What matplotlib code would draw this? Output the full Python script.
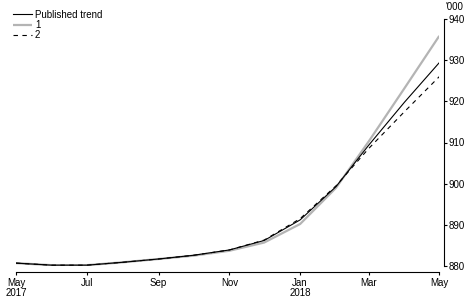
import matplotlib
matplotlib.use("Agg")
import matplotlib.pyplot as plt
import matplotlib.dates as mdates
import numpy as np
import datetime as dt

months = [dt.date(2017, 5, 1), dt.date(2017, 6, 1), dt.date(2017, 7, 1), dt.date(2017, 8, 1),
          dt.date(2017, 9, 1), dt.date(2017, 10, 1), dt.date(2017, 11, 1), dt.date(2017, 12, 1),
          dt.date(2018, 1, 1), dt.date(2018, 2, 1), dt.date(2018, 3, 1), dt.date(2018, 4, 1),
          dt.date(2018, 5, 1)]
published = [880.7, 880.2, 880.2, 880.9, 881.7, 882.6, 883.9, 886.2, 891.2, 899.3, 909.3, 919.8, 929.4]
series1 = [880.7, 880.2, 880.2, 880.9, 881.7, 882.5, 883.7, 885.7, 890.2, 899.0, 910.2, 923.2, 935.9]
series2 = [880.7, 880.2, 880.2, 880.9, 881.7, 882.6, 883.9, 886.3, 891.5, 899.5, 908.5, 917.5, 926.0]
labels = ["Published trend", "1", "2"]
tick_dates = [dt.date(2017, 5, 1), dt.date(2017, 7, 1), dt.date(2017, 9, 1), dt.date(2017, 11, 1),
              dt.date(2018, 1, 1), dt.date(2018, 3, 1), dt.date(2018, 5, 1)]
tick_labels = ["May\n2017", "Jul", "Sep", "Nov", "Jan\n2018", "Mar", "May"]
yticks = [880, 890, 900, 910, 920, 930, 940]

plt.rcParams['font.family'] = ['Liberation Sans', 'DejaVu Sans']
FS = 7

W, H = 472, 302
fig = plt.figure(figsize=(W / 100, H / 100), dpi=100)
ax = fig.add_axes([16 / W, 1 - 266 / H, (439.3 - 16) / W, (266 - 19) / H])

x = mdates.date2num(months)
l1, = ax.plot(x, series1, color="#b4b4b4", lw=1.6, solid_capstyle="butt", zorder=2)
l0, = ax.plot(x, published, color="black", lw=0.8, zorder=3)
l2, = ax.plot(x, series2, color="black", lw=0.8, dashes=(4, 4), zorder=4)

ax.set_xlim(mdates.date2num(dt.date(2017, 5, 1)), mdates.date2num(dt.date(2018, 5, 1)))
ax.set_ylim(880, 940)

ax.spines['top'].set_visible(False)
ax.spines['left'].set_visible(False)
ax.spines['right'].set_position(('outward', 3.6))
ax.spines['bottom'].set_position(('outward', 4.3))
ax.spines['right'].set_linewidth(0.8)
ax.spines['bottom'].set_linewidth(0.8)

ax.yaxis.tick_right()
ax.set_yticks(yticks)
ax.set_yticklabels([str(v) for v in yticks], fontsize=FS)
ax.tick_params(axis='y', direction='out', length=2, width=0.8, pad=1)

ax.set_xticks(mdates.date2num(tick_dates))
ax.set_xticklabels(tick_labels, fontsize=FS, linespacing=1.1)
ax.tick_params(axis='x', direction='out', length=2.5, width=0.8, pad=1.5)

fig.text(445 / W, 1 - 7 / H, "'000", fontsize=FS, ha='left', va='center')

leg = ax.legend([l0, l1, l2], labels, loc='upper left', bbox_to_anchor=(12.5 / W, 1 - 9.5 / H),
                bbox_transform=fig.transFigure, frameon=False, fontsize=FS,
                handlelength=2.0, handletextpad=0.3, labelspacing=0.05, borderpad=0,
                borderaxespad=0)

fig.savefig("out.png", dpi=100)
